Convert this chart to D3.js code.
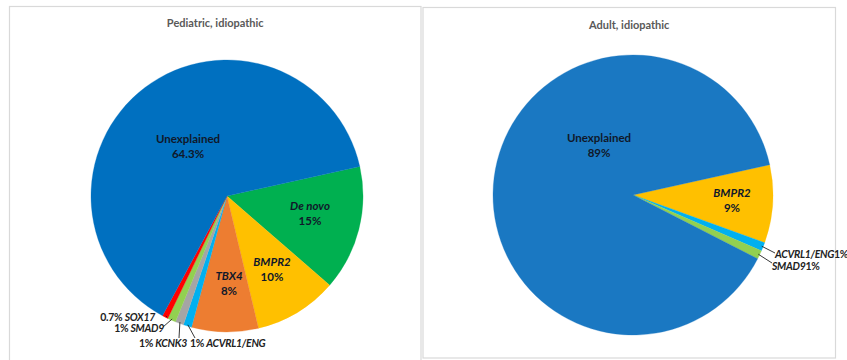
<!DOCTYPE html>
<html><head><meta charset="utf-8">
<script src="https://cdn.jsdelivr.net/npm/d3@7/dist/d3.min.js"></script>
<style>body{margin:0;background:#fff}svg{display:block}text{font-family:Lato,"Open Sans",sans-serif}</style>
</head><body>
<svg id="c" width="847" height="360"></svg>
<script>
// Pediatric, idiopathic (clockwise from the De novo slice)
const pedCategories = ["De novo", "BMPR2", "TBX4", "ACVRL1/ENG", "KCNK3", "SMAD9", "SOX17", "Unexplained"];
const pedValues = [15, 10, 8, 1, 1, 1, 0.7, 64.3];
const pedLabels = ["15%", "10%", "8%", "1%", "1%", "1%", "0.7%", "64.3%"];
const pedColors = ["#00B050", "#FFC000", "#ED7D31", "#00B0F0", "#A5A5A5", "#92D050", "#FF0000", "#0070C0"];
const pedItalic = [true, true, true, true, true, true, true, false];

// Adult, idiopathic
const adCategories = ["BMPR2", "ACVRL1/ENG", "SMAD9", "Unexplained"];
const adValues = [9, 1, 1, 89];
const adLabels = ["9%", "1%", "1%", "89%"];
const adColors = ["#FFC000", "#00B0F0", "#92D050", "#1A78C2"];
const adItalic = [true, true, true, false];

const svg = d3.select("#c");
const deg = Math.PI / 180;

function panel(cfg) {
  const g = svg.append("g");
  g.append("rect").attr("x", cfg.box[0]).attr("y", cfg.box[1]).attr("width", cfg.box[2]).attr("height", cfg.box[3])
    .attr("fill", "#fff").attr("stroke", "#D9D9D9").attr("stroke-width", 1.2);
  g.append("text").attr("x", cfg.box[0] + cfg.box[2] / 2).attr("y", cfg.titleY).attr("text-anchor", "middle")
    .attr("font-size", 11).attr("font-weight", "bold").attr("fill", "#595959").text(cfg.title);
  const pie = d3.pie().sort(null).value(d => d.v).startAngle(77.5 * deg).endAngle(77.5 * deg + 2 * Math.PI);
  const data = cfg.cats.map((c, i) => ({c, v: cfg.vals[i], lab: cfg.labs[i], col: cfg.cols[i], it: cfg.ital[i]}));
  const arcs = pie(data);
  const arc = d3.arc().innerRadius(0).outerRadius(cfg.r);
  const pg = g.append("g").attr("transform", `translate(${cfg.cx},${cfg.cy})`);
  pg.selectAll("path").data(arcs).join("path").attr("d", arc).attr("fill", d => d.data.col)
    .attr("stroke", d => d.data.col).attr("stroke-width", 0.3);
  // inside labels
  arcs.forEach((a, i) => {
    const ins = cfg.inside[a.data.c];
    if (!ins) return;
    const t = pg.append("text").attr("text-anchor", "middle").attr("font-size", 11.5).attr("font-weight", "bold").attr("fill", "#10182a");
    t.append("tspan").attr("x", ins[0]).attr("y", ins[1]).attr("font-style", a.data.it ? "italic" : "normal").text(a.data.c);
    t.append("tspan").attr("x", ins[0]).attr("y", ins[1] + 15).text(a.data.lab);
  });
  // outside labels
  arcs.forEach((a) => {
    const o = cfg.outside[a.data.c];
    if (!o) return;
    const mid = (a.startAngle + a.endAngle) / 2;
    const rr = cfg.r * 0.99;
    const px = Math.sin(mid) * rr, py = -Math.cos(mid) * rr;
    pg.append("line").attr("x1", px).attr("y1", py).attr("x2", o.lx).attr("y2", o.ly)
      .attr("stroke", "#222").attr("stroke-width", 0.9);
    const t = pg.append("text").attr("x", o.tx).attr("y", o.ty).attr("text-anchor", o.anchor)
      .attr("font-size", 10.5).attr("font-weight", "bold").attr("fill", "#222").attr("letter-spacing", -0.3);
    if (o.pctFirst) {
      t.append("tspan").text(a.data.lab + " ");
      t.append("tspan").attr("font-style", "italic").text(a.data.c);
    } else {
      t.append("tspan").attr("font-style", "italic").text(a.data.c);
      t.append("tspan").text(a.data.lab);
    }
  });
}

panel({
  box: [9.5, 6.5, 411.5, 360], title: "Pediatric, idiopathic", titleY: 27,
  cx: 227, cy: 196, r: 136,
  cats: pedCategories, vals: pedValues, labs: pedLabels, cols: pedColors, ital: pedItalic,
  inside: {"Unexplained": [-39, -53], "De novo": [83, 14], "BMPR2": [45, 70], "TBX4": [2, 84]},
  outside: {
    "SOX17": {lx: -60, ly: 121, tx: -72, ty: 125, anchor: "end", pctFirst: true},
    "SMAD9": {lx: -64, ly: 131, tx: -63, ty: 136, anchor: "end", pctFirst: true},
    "KCNK3": {lx: -48, ly: 142, tx: -40, ty: 151, anchor: "end", pctFirst: true},
    "ACVRL1/ENG": {lx: -32, ly: 142, tx: -37, ty: 151, anchor: "start", pctFirst: true}
  }
});

panel({
  box: [423, 7.5, 412.5, 350.5], title: "Adult, idiopathic", titleY: 29,
  cx: 633, cy: 195, r: 140,
  cats: adCategories, vals: adValues, labs: adLabels, cols: adColors, ital: adItalic,
  inside: {"Unexplained": [-34, -53], "BMPR2": [99, 2]},
  outside: {
    "ACVRL1/ENG": {lx: 142, ly: 58, tx: 142, ty: 63, anchor: "start", pctFirst: false},
    "SMAD9": {lx: 139, ly: 68, tx: 139, ty: 75, anchor: "start", pctFirst: false}
  }
});
</script>
</body></html>
